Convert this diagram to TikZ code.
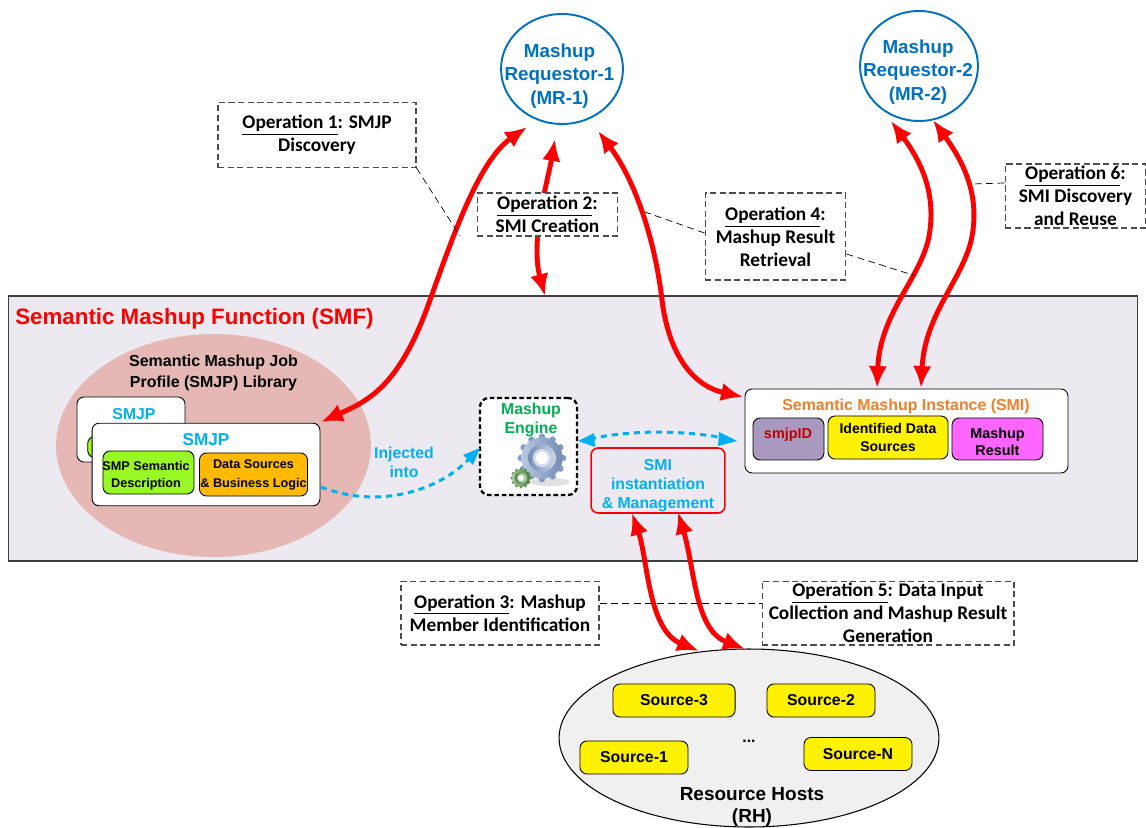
\documentclass[tikz,border=0pt]{standalone}
\usepackage{fontspec}
\setmainfont{Liberation Sans}
\newfontfamily\opfont{Carlito}
\usetikzlibrary{arrows.meta,shapes.geometric}
\definecolor{smfbg}{HTML}{ECE9F1}
\definecolor{libbg}{HTML}{E5B8B5}
\definecolor{skyblue}{HTML}{00B0F0}
\definecolor{mrblue}{HTML}{0070C0}
\definecolor{smporange}{HTML}{F07F2A}
\definecolor{enginegreen}{HTML}{00B050}
\definecolor{smpgreen}{HTML}{99F724}
\definecolor{dataorange}{HTML}{FFBA00}
\definecolor{idpurple}{HTML}{A999BE}
\definecolor{resultpink}{HTML}{FF66FF}
\definecolor{gearblue}{HTML}{7F9BC8}
\definecolor{geargreen}{HTML}{4F8F3F}
\newcommand{\sz}[2]{\fontsize{#1}{#2}\selectfont\bfseries}
\newcommand{\drawgear}[4]{%
  \foreach \a in {0,30,...,330}
    \fill[#4] (#1,#2) ++(\a:#3*0.92) circle[radius=#3*0.14];
  \shade[left color=#4!55!white, right color=#4!90!black] (#1,#2) circle[radius=#3*0.9];
  \shade[left color=#4!90!black, right color=#4!40!white] (#1,#2) circle[radius=#3*0.6];
  \fill[#4!35!white] (#1,#2) circle[radius=#3*0.4];
  \fill[white] (#1,#2) circle[radius=#3*0.27];
}
\tikzset{
  box/.style={draw=black, rounded corners=4pt, inner sep=0pt, align=center, text=black, line width=0.5pt},
  srcbox/.style={box, fill=yellow, minimum width=61.5pt, minimum height=18.8pt, font=\sz{9}{11}},
  mrnode/.style={draw=mrblue, ellipse, line width=1.1pt, fill=white, inner sep=0pt},
  mrtext/.style={align=center, inner sep=0pt, text=mrblue, font=\sz{10.7}{13.2}},
  opbox/.style={draw=black!70, line width=0.6pt, dash pattern=on 3.5pt off 2pt, fill=white, inner sep=0pt, align=center, font=\opfont\sz{11}{13}},
  leader/.style={draw=black, dash pattern=on 4pt off 2.5pt, line width=0.4pt},
  redarrow/.style={draw=red, line width=2.8pt, {Latex[length=12.5pt,width=10.5pt]}-{Latex[length=12.5pt,width=10.5pt]}},
  bluearrow/.style={draw=skyblue, line width=1.7pt, dash pattern=on 3.5pt off 2.8pt},
  bluetext/.style={text=skyblue, align=center, inner sep=0pt, font=\sz{9}{10.8}}
}
\begin{document}
\begin{tikzpicture}[x=0.02cm,y=-0.02cm]
\useasboundingbox (0,0) rectangle (1146,828);
\node[draw=black!75, line width=0.7pt, fill=smfbg, minimum width=643pt, minimum height=150.8pt, inner sep=0pt] (smf) at (573,428.5) {};
\node[anchor=west, inner sep=0pt, text=red, font=\sz{12.7}{15}] (smftitle) at (15,319) {Semantic Mashup Function (SMF)};
\node[ellipse, fill=libbg, minimum width=179.2pt, minimum height=126.9pt, inner sep=0pt] (library) at (213.5,445.5) {};
\node[align=center, inner sep=0pt, font=\sz{9.1}{11.8}] (libtitle) at (213.5,373) {Semantic Mashup Job\\Profile (SMJP) Library};
\node[box, fill=white, minimum width=61.5pt, minimum height=37pt] (smjpback) at (131,429.5) {};
\node[bluetext] (smjpbacktext) at (134,414) {SMJP};
\node[box, fill=smpgreen, minimum width=14pt, minimum height=12pt] (smjpbackgreen) at (100,447) {};
\node[box, fill=white, minimum width=129.7pt, minimum height=47pt] (smjp) at (206,464.5) {};
\node[text=skyblue, inner sep=0pt, font=\sz{9.8}{12}] (smjptext) at (206,440) {SMJP};
\node[box, fill=smpgreen, minimum width=51.8pt, minimum height=24.5pt] (smpdesc) at (148.5,472.5) {};
\node[align=center, inner sep=0pt, font=\sz{7.2}{9.4}] (smpdesctext) at (146,475.5) {SMP Semantic\\Description};
\node[box, fill=dataorange, minimum width=61.5pt, minimum height=24.5pt, font=\sz{7.2}{10.8}] (datasrc) at (253.5,474.5) {Data Sources\\\& Business Logic};
\node[bluetext] (injected) at (404,462) {Injected\\into};
\node[draw=black, line width=1.3pt, dash pattern=on 2.6pt off 1.6pt, rounded corners=5pt, fill=white, minimum width=55.2pt, minimum height=55.2pt, inner sep=0pt] (engine) at (528.5,446.5) {};
\node[text=enginegreen, align=center, inner sep=0pt, font=\sz{9}{10.8}] (enginetext) at (531,420) {Mashup\\Engine};
\fill[black!12] (550,482) ellipse[x radius=20, y radius=4];
\drawgear{542}{458}{23}{gearblue}
\drawgear{521}{478}{10}{geargreen}
\node[box, draw=red, line width=0.9pt, fill=smfbg, minimum width=76.2pt, minimum height=37pt] (smimgmt) at (658,480.5) {};
\node[bluetext] (smimgmttext) at (658,486) {SMI\\instantiation\\\& Management};
\node[box, fill=white, minimum width=183.8pt, minimum height=47.8pt] (smi) at (906.5,431) {};
\node[text=smporange, inner sep=0pt, font=\sz{9.05}{11}] (smitext) at (906,406) {Semantic Mashup Instance (SMI)};
\node[box, fill=idpurple, minimum width=40.4pt, minimum height=23.9pt] (smjpid) at (788.5,439) {};
\node[text=red!75!black, inner sep=0pt, font=\sz{8.2}{10}] (smjpidtext) at (788,435) {smjpID};
\node[box, fill=yellow, minimum width=68.3pt, minimum height=24.5pt, font=\sz{8}{10.6}] (identified) at (888,437.5) {Identified Data\\Sources};
\node[box, fill=resultpink, minimum width=51.8pt, minimum height=23.9pt] (result) at (997.5,439) {};
\node[align=center, inner sep=0pt, font=\sz{8.2}{9.9}] (resulttext) at (997.5,442) {Mashup\\Result};
\node[mrnode, minimum width=69.4pt, minimum height=62.6pt] (mrone) at (562,69) {};
\node[mrtext] (mronetext) at (559.5,76) {Mashup\\Requestor-1\\(MR-1)};
\node[mrnode, minimum width=67.1pt, minimum height=62.6pt] (mrtwo) at (919,66) {};
\node[mrtext] (mrtwotext) at (918,72) {Mashup\\Requestor-2\\(MR-2)};
\node[ellipse, draw=black, line width=0.6pt, fill=black!6, minimum width=216.2pt, minimum height=101.3pt, inner sep=0pt] (hosts) at (749,738) {};
\node[srcbox, minimum width=69.5pt] (srcthree) at (674,700.5) {Source-3};
\node[srcbox] (srctwo) at (821,700.5) {Source-2};
\node[srcbox] (srcone) at (634,757.5) {Source-1};
\node[srcbox] (srcn) at (858,754) {Source-N};
\node[inner sep=0pt, font=\sz{9}{11}] (dots) at (749,741) {...};
\node[align=center, inner sep=0pt, font=\sz{10.8}{13}] (hoststext) at (752,807) {Resource Hosts\\(RH)};
\coordinate (oneup) at (527,127);
\coordinate (onedown) at (321,422);
\coordinate (twoup) at (555,139);
\coordinate (twodown) at (545,296);
\coordinate (fourup) at (598,131);
\coordinate (fourdown) at (743,397);
\coordinate (sixlup) at (891,121);
\coordinate (sixldown) at (877,388);
\coordinate (sixrup) at (933,120);
\coordinate (sixrdown) at (921,388);
\coordinate (threeup) at (632,513);
\coordinate (threedown) at (699,651);
\coordinate (fiveup) at (678,512);
\coordinate (fivedown) at (745,649);
\coordinate (oponeend) at (460,236);
\coordinate (opfourl) at (645,212);
\coordinate (opfourr) at (916,276);
\coordinate (opsixl) at (972,184);
\draw[redarrow] (oneup) .. controls (480,160) and (455,230) .. (430,300) .. controls (400,385) and (370,400) .. (onedown);
\draw[redarrow] (twoup) .. controls (548,180) and (530,240) .. (twodown);
\draw[redarrow] (fourup) .. controls (635,180) and (655,240) .. (662,300) .. controls (668,350) and (690,385) .. (fourdown);
\draw[redarrow] (sixlup) .. controls (920,160) and (935,190) .. (930,230) .. controls (925,275) and (880,310) .. (sixldown);
\draw[redarrow] (sixrup) .. controls (962,160) and (978,190) .. (973,230) .. controls (968,275) and (925,310) .. (sixrdown);
\draw[redarrow] (threeup) .. controls (648,560) and (648,630) .. (threedown);
\draw[redarrow] (fiveup) .. controls (695,570) and (695,630) .. (fivedown);
\coordinate (injstart) at (321,487);
\coordinate (injtip) at (480,448);
\coordinate (engtip) at (578,441);
\coordinate (smitip) at (737,441);
\draw[bluearrow] (injstart) .. controls (380,510) and (440,490) .. (470,458);
\fill[skyblue] (injtip) -- (463,455) -- (473,465) -- cycle;
\draw[bluearrow] (590,439) .. controls (630,430) and (680,430) .. (725,438);
\fill[skyblue] (engtip) -- (594,433) -- (595,447) -- cycle;
\fill[skyblue] (smitip) -- (719,432) -- (718,446) -- cycle;
\node[opbox, minimum width=112.7pt, minimum height=37pt] (opone) at (317,135) {\underline{Operation 1}: SMJP\\Discovery};
\node[opbox, minimum width=80.2pt, minimum height=24.5pt] (optwo) at (547.5,214.5) {\underline{Operation 2}:\\SMI Creation};
\node[opbox, minimum width=80.2pt, minimum height=49.5pt] (opfour) at (775.5,236.5) {\underline{Operation 4}:\\Mashup Result\\Retrieval};
\node[opbox, minimum width=80.2pt, minimum height=36.4pt] (opsix) at (1075.5,196) {\underline{Operation 6}:\\SMI Discovery\\and Reuse};
\node[opbox, minimum width=112.7pt, minimum height=36.4pt] (opthree) at (500,613) {\underline{Operation 3}: Mashup\\Member Identification};
\node[opbox, minimum width=143.4pt, minimum height=36.4pt] (opfive) at (888,613) {\underline{Operation 5}: Data Input\\Collection and Mashup Result\\Generation};
\draw[leader] (opone.south east) -- (oponeend);
\draw[leader] (opfour.west |- 0,233) -- (opfourl);
\draw[leader] (opfour.east |- 0,254) -- (opfourr);
\draw[leader] (opsix.west |- 0,183) -- (opsixl);
\draw[leader] (opthree.east |- 0,603) -- (opfive.west |- 0,603);
\end{tikzpicture}
\end{document}
